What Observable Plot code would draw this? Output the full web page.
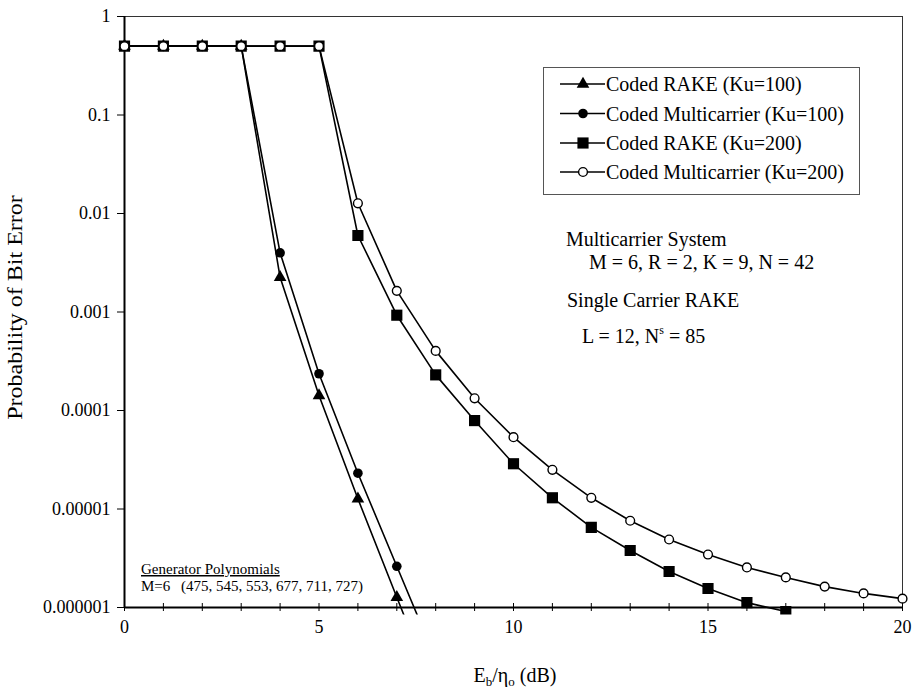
<!DOCTYPE html>
<html><head><meta charset="utf-8">
<script src="https://cdn.jsdelivr.net/npm/d3@7"></script>
<script src="https://cdn.jsdelivr.net/npm/@observablehq/plot@0.6"></script>
<style>
body{margin:0;background:#fff;}
#chart{position:relative;width:914px;height:688px;}
</style>
</head><body><div id="chart"></div>
<script>
// ---- data ----
const seriesNames = ["Coded RAKE (Ku=100)", "Coded Multicarrier (Ku=100)", "Coded RAKE (Ku=200)", "Coded Multicarrier (Ku=200)"];
const ebnoKu100 = [0, 1, 2, 3, 4, 5, 6, 7, 8];
const rakeKu100 = [0.5, 0.5, 0.5, 0.5, 2.25e-3, 1.42e-4, 1.27e-5, 1.27e-6, 1.3e-7];
const mcKu100   = [0.5, 0.5, 0.5, 0.5, 3.99e-3, 2.36e-4, 2.31e-5, 2.62e-6, 3.0e-7];
const ebnoRakeKu200 = [0, 1, 2, 3, 4, 5, 6, 7, 8, 9, 10, 11, 12, 13, 14, 15, 16, 17];
const rakeKu200 = [0.5, 0.5, 0.5, 0.5, 0.5, 0.5, 5.98e-3, 9.28e-4, 2.30e-4, 7.9e-5, 2.88e-5, 1.30e-5, 6.5e-6, 3.79e-6, 2.32e-6, 1.56e-6, 1.12e-6, 9.1e-7];
const ebnoMcKu200 = [0, 1, 2, 3, 4, 5, 6, 7, 8, 9, 10, 11, 12, 13, 14, 15, 16, 17, 18, 19, 20];
const mcKu200 = [0.5, 0.5, 0.5, 0.5, 0.5, 0.5, 1.27e-2, 1.64e-3, 4.03e-4, 1.33e-4, 5.36e-5, 2.50e-5, 1.30e-5, 7.6e-6, 4.9e-6, 3.45e-6, 2.55e-6, 2.02e-6, 1.63e-6, 1.39e-6, 1.23e-6];
const xTickLabels = [0, 5, 10, 15, 20];
const xMinorTicks = [0, 1, 2, 3, 4, 5, 6, 7, 8, 9, 10, 11, 12, 13, 14, 15, 16, 17, 18, 19, 20];
const yTickValues = [1, 0.1, 0.01, 0.001, 0.0001, 0.00001, 0.000001];
const yTickLabels = ["1", "0.1", "0.01", "0.001", "0.0001", "0.00001", "0.000001"];
const yLabel = "Probability of Bit Error";
const annotations = ["Multicarrier System", "M = 6, R = 2, K = 9, N = 42", "Single Carrier RAKE"];
const rakeParams = ["L = 12, N", "s", " = 85"];
const generatorTitle = "Generator Polynomials";
const generatorM = "M=6";
const generatorList = "(475, 545, 553, 677, 711, 727)";

// ---- build ----
const toRows = (xs, ys) => xs.map((x, i) => ({x, y: ys[i]}));
const series = [
  {name: seriesNames[0], rows: toRows(ebnoKu100, rakeKu100)},
  {name: seriesNames[1], rows: toRows(ebnoKu100, mcKu100)},
  {name: seriesNames[2], rows: toRows(ebnoRakeKu200, rakeKu200)},
  {name: seriesNames[3], rows: toRows(ebnoMcKu200, mcKu200)}
];
const styles = [
  {symbol: "triangle", r: 4.7, fill: "black", stroke: "none"},
  {symbol: "circle", r: 4.8, fill: "black", stroke: "none"},
  {symbol: "square", r: 6.3, fill: "black", stroke: "none"},
  {symbol: "circle", r: 4.4, fill: "white", stroke: "black"}
];

const FONT = "'Liberation Serif', 'Times New Roman', serif";
const W = 914, H = 688, ML = 124, MR = 12, MT = 16, MB = 81;

const lineMarks = series.map(s => Plot.line(s.rows, {x: "x", y: "y", stroke: "black", strokeWidth: 1.6}));
const dotMarks = series.map((s, i) => Plot.dot(s.rows, {x: "x", y: "y", symbol: () => styles[i].symbol, r: styles[i].r, fill: styles[i].fill, stroke: styles[i].stroke, strokeWidth: 1.4}));

const plot = Plot.plot({
  width: W, height: H,
  marginLeft: ML, marginRight: MR, marginTop: MT, marginBottom: MB,
  style: {fontFamily: FONT, fontSize: "18px", background: "white", color: "black"},
  x: {domain: [0, 20]},
  y: {type: "log", domain: [1e-6, 1]},
  symbol: {type: "identity"},
  marks: [
    Plot.frame({stroke: "#333", strokeWidth: 1}),
    Plot.ruleX([0], {stroke: "black", strokeWidth: 2}),
    Plot.ruleY([1e-6], {stroke: "black", strokeWidth: 2}),
    Plot.axisY({ticks: yTickValues, tickFormat: d => yTickLabels[Math.round(-Math.log10(d))], tickSize: 7, tickPadding: 7, label: null, fontSize: 18}),
    Plot.axisX({ticks: xMinorTicks, tickSize: 8, dy: -4, tickFormat: () => "", label: null}),
    Plot.axisX({ticks: xTickLabels, tickSize: 0, tickPadding: 13, label: null, fontSize: 18}),
    ...lineMarks,
    ...dotMarks
  ]
});

const svg = d3.select(plot);
const xs = plot.scale("x"), ys = plot.scale("y");
const frameLeft = xs.apply(0), frameRight = xs.apply(20), frameTop = ys.apply(1), frameBottom = ys.apply(1e-6);

// clip data marks a little below the bottom axis only
svg.append("defs").append("clipPath").attr("id", "clipBottom")
  .append("rect").attr("x", 0).attr("y", 0).attr("width", W).attr("height", frameBottom + 7);
svg.selectAll('g[aria-label="line"], g[aria-label="dot"]').attr("clip-path", "url(#clipBottom)");

const tg = svg.append("g").attr("font-family", FONT).attr("fill", "black").attr("text-anchor", "start");

// y label
tg.append("text")
  .attr("transform", `translate(${frameLeft - 102},${(frameTop + frameBottom) / 2 - 4}) rotate(-90) scale(1.2,1)`)
  .attr("text-anchor", "middle").attr("font-size", 20).text(yLabel);

// x label with subscripts
const xl = tg.append("text").attr("x", (frameLeft + frameRight) / 2 + 2).attr("y", H - 6)
  .attr("text-anchor", "middle").attr("font-size", 20);
xl.append("tspan").text("E");
xl.append("tspan").attr("font-size", 13).attr("dy", 4).text("b");
xl.append("tspan").attr("dy", -4).text("/η");
xl.append("tspan").attr("font-size", 13).attr("dy", 4).text("o");
xl.append("tspan").attr("dy", -4).text(" (dB)");

// annotations
tg.append("text").attr("x", 566).attr("y", 246).attr("font-size", 20).text(annotations[0]);
tg.append("text").attr("x", 589).attr("y", 269).attr("font-size", 20).text(annotations[1]);
tg.append("text").attr("x", 567).attr("y", 307).attr("font-size", 20).text(annotations[2]);
const lp = tg.append("text").attr("x", 582).attr("y", 343).attr("font-size", 20);
lp.append("tspan").text(rakeParams[0]);
lp.append("tspan").attr("font-size", 12).attr("dy", -9).text(rakeParams[1]);
lp.append("tspan").attr("dy", 9).text(rakeParams[2]);

tg.append("text").attr("x", 141).attr("y", 574).attr("font-size", 15).attr("text-decoration", "underline").text(generatorTitle);
tg.append("text").attr("x", 141).attr("y", 591).attr("font-size", 15).text(generatorM);
tg.append("text").attr("x", 181).attr("y", 591).attr("font-size", 15).text(generatorList);

// legend
const lg = svg.append("g").attr("text-anchor", "start");
lg.append("rect").attr("x", 543.5).attr("y", 67.5).attr("width", 316).attr("height", 127)
  .attr("fill", "white").attr("stroke", "#555").attr("stroke-width", 1);
const rowY = [84, 113.5, 143, 172];
seriesNames.forEach((name, i) => {
  const y = rowY[i];
  lg.append("line").attr("x1", 560).attr("x2", 605).attr("y1", y).attr("y2", y).attr("stroke", "black").attr("stroke-width", 1.6);
  const st = styles[i];
  const sym = st.symbol === "triangle" ? d3.symbolTriangle : st.symbol === "square" ? d3.symbolSquare : d3.symbolCircle;
  lg.append("path").attr("d", d3.symbol(sym, st.r * st.r * Math.PI)()).attr("transform", `translate(583,${y})`)
    .attr("fill", st.fill).attr("stroke", st.stroke).attr("stroke-width", 1.4);
  lg.append("text").attr("x", 606).attr("y", y + 7).attr("font-family", FONT).attr("font-size", 20).attr("text-anchor", "start").text(name);
});

document.getElementById("chart").appendChild(plot);
</script>
</body></html>
